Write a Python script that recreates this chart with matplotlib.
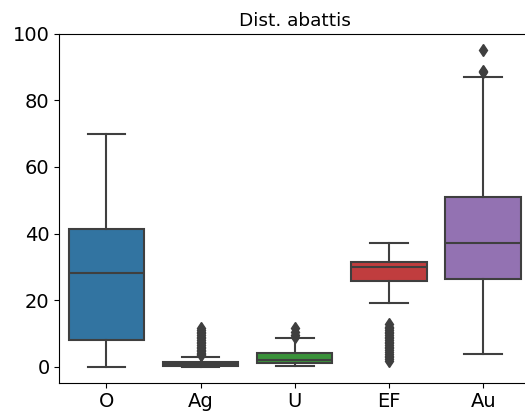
import matplotlib
matplotlib.use("Agg")
import matplotlib.pyplot as plt

# box statistics
labels = ["O", "Ag", "U", "EF", "Au"]
whislo = [0.0, 0.0, 0.2, 19.0, 3.8]
q1 = [8.0, 0.2, 1.0, 25.6, 26.2]
med = [28.0, 0.7, 2.0, 29.8, 37.2]
q3 = [41.5, 1.4, 4.2, 31.5, 51.0]
whishi = [70.0, 3.0, 8.5, 37.2, 87.0]
fliers = [
    [],
    [3.4, 3.8, 4.2, 4.6, 5.0, 5.5, 6.0, 6.5, 7.0, 7.5, 8.0, 8.5, 9.0, 9.5, 10.0, 10.5, 11.0, 11.5],
    [8.9, 9.5, 10.5, 11.5],
    [1.8, 2.3, 2.8, 3.3, 3.8, 4.5, 5.0, 5.5, 6.0, 6.5, 7.0, 7.5, 8.0, 8.5, 9.0, 9.5, 10.0, 10.5, 11.0, 11.5, 12.0, 12.7],
    [88.5, 89.0, 95.3],
]
colors = ["#3274a1", "#e1812c", "#3a923a", "#c03d3e", "#9372b2"]

stats = []
for i, lab in enumerate(labels):
    stats.append(dict(label=lab, whislo=whislo[i], q1=q1[i], med=med[i],
                      q3=q3[i], whishi=whishi[i], fliers=fliers[i]))

fig = plt.figure(figsize=(5.25, 4.19), dpi=100)
# the right spine falls just outside the picture in the reference
ax = fig.add_axes([0.113, 0.087, 0.897, 0.832])

line_c = "#3f3f3f"
bp = ax.bxp(stats, positions=range(len(labels)), widths=0.8, patch_artist=True,
            boxprops=dict(edgecolor=line_c, linewidth=1.5),
            medianprops=dict(color=line_c, linewidth=1.5),
            whiskerprops=dict(color=line_c, linewidth=1.5),
            capprops=dict(color=line_c, linewidth=1.5),
            flierprops=dict(marker="d", markerfacecolor=line_c, markeredgecolor=line_c,
                            markersize=6, linestyle="none"))
for patch, c in zip(bp["boxes"], colors):
    patch.set_facecolor(c)

ax.set_xlim(-0.5, 4.5)
ax.set_ylim(-4.8, 100)
ax.set_yticks([0, 20, 40, 60, 80, 100])
ax.set_xticks(range(len(labels)))
ax.set_xticklabels(labels)
ax.tick_params(labelsize=14)
ax.set_title("Dist. abattis", fontsize=13.3)

fig.savefig("out.png", dpi=100)
